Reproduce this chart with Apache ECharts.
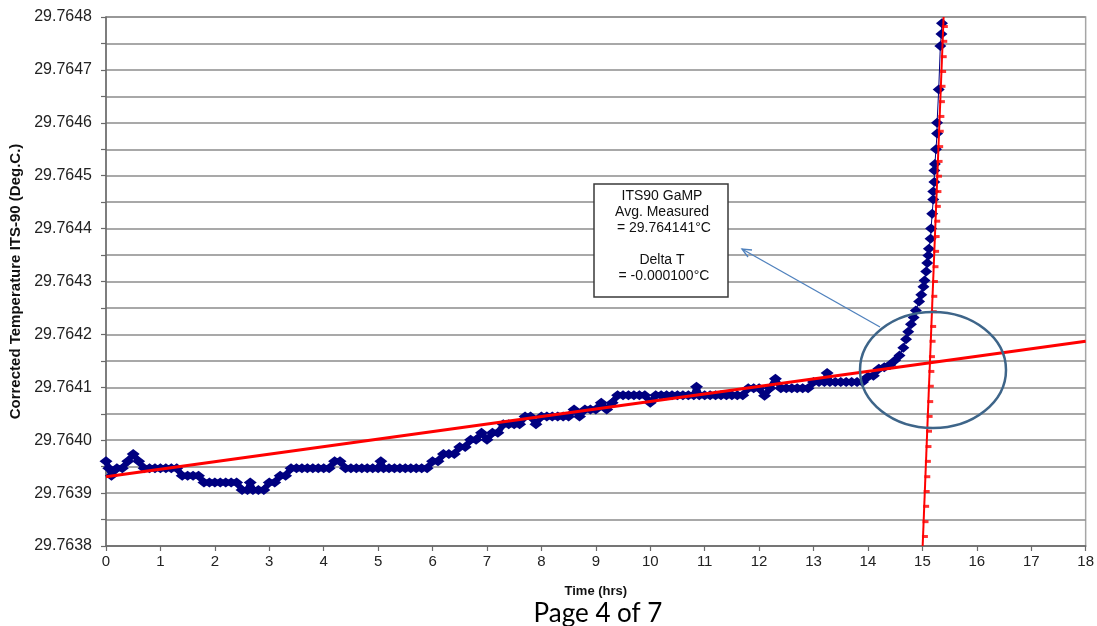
<!DOCTYPE html>
<html>
<head>
<meta charset="utf-8">
<title>ITS90 GaMP</title>
<script src="https://cdn.jsdelivr.net/npm/echarts@6/dist/echarts.min.js"></script>
<style>
  html, body { margin: 0; padding: 0; background: #fff; }
  #chart { width: 1097px; height: 626px; }
</style>
</head>
<body>
<div id="chart"></div>
<script>
// Measured points (time in hrs, corrected temperature in deg C)
const timeHrs = [
    0.00, 0.05, 0.10, 0.20, 0.30, 0.40, 0.50, 0.60, 0.70, 0.80,
    0.90, 1.00, 1.10, 1.20, 1.30, 1.40, 1.50, 1.60, 1.70, 1.80,
    1.90, 2.00, 2.10, 2.20, 2.30, 2.40, 2.50, 2.60, 2.65, 2.70,
    2.80, 2.90, 3.00, 3.10, 3.20, 3.30, 3.40, 3.50, 3.60, 3.70,
    3.80, 3.90, 4.00, 4.10, 4.20, 4.30, 4.40, 4.50, 4.60, 4.70,
    4.80, 4.90, 5.00, 5.05, 5.10, 5.20, 5.30, 5.40, 5.50, 5.60,
    5.70, 5.80, 5.90, 6.00, 6.10, 6.20, 6.30, 6.40, 6.50, 6.60,
    6.70, 6.80, 6.90, 7.00, 7.10, 7.20, 7.30, 7.40, 7.50, 7.60,
    7.70, 7.80, 7.90, 8.00, 8.10, 8.20, 8.30, 8.40, 8.50, 8.60,
    8.70, 8.80, 8.90, 9.00, 9.10, 9.20, 9.30, 9.40, 9.50, 9.60,
    9.70, 9.80, 9.90, 10.00, 10.10, 10.20, 10.30, 10.40, 10.50, 10.60,
    10.70, 10.80, 10.85, 10.90, 11.00, 11.10, 11.20, 11.30, 11.40, 11.50,
    11.60, 11.70, 11.80, 11.90, 12.00, 12.10, 12.20, 12.30, 12.40, 12.50,
    12.60, 12.70, 12.80, 12.90, 13.00, 13.10, 13.20, 13.25, 13.30, 13.40,
    13.50, 13.60, 13.70, 13.80, 13.90, 14.00, 14.10, 14.20, 14.30, 14.40,
    14.50, 14.58, 14.65, 14.70, 14.74, 14.79, 14.84, 14.88, 14.94, 14.98,
    15.02, 15.04, 15.07, 15.09, 15.11, 15.12, 15.15, 15.16, 15.18, 15.20,
    15.20, 15.22, 15.22, 15.23, 15.25, 15.27, 15.27, 15.30, 15.33, 15.35,
    15.36
];
const tempDegC = [
    29.763960, 29.763947, 29.763933, 29.763947, 29.763947, 29.763960, 29.763974, 29.763960, 29.763947, 29.763947,
    29.763947, 29.763947, 29.763947, 29.763947, 29.763947, 29.763933, 29.763933, 29.763933, 29.763933, 29.763920,
    29.763920, 29.763920, 29.763920, 29.763920, 29.763920, 29.763920, 29.763906, 29.763906, 29.763920, 29.763906,
    29.763906, 29.763906, 29.763920, 29.763920, 29.763933, 29.763933, 29.763947, 29.763947, 29.763947, 29.763947,
    29.763947, 29.763947, 29.763947, 29.763947, 29.763960, 29.763960, 29.763947, 29.763947, 29.763947, 29.763947,
    29.763947, 29.763947, 29.763947, 29.763960, 29.763947, 29.763947, 29.763947, 29.763947, 29.763947, 29.763947,
    29.763947, 29.763947, 29.763947, 29.763960, 29.763960, 29.763974, 29.763974, 29.763974, 29.763987, 29.763987,
    29.764001, 29.764001, 29.764014, 29.764001, 29.764014, 29.764014, 29.764030, 29.764030, 29.764030, 29.764030,
    29.764045, 29.764045, 29.764030, 29.764045, 29.764045, 29.764045, 29.764045, 29.764045, 29.764045, 29.764058,
    29.764045, 29.764058, 29.764058, 29.764058, 29.764071, 29.764058, 29.764071, 29.764085, 29.764085, 29.764085,
    29.764085, 29.764085, 29.764085, 29.764071, 29.764085, 29.764085, 29.764085, 29.764085, 29.764085, 29.764085,
    29.764085, 29.764085, 29.764101, 29.764085, 29.764085, 29.764085, 29.764085, 29.764085, 29.764085, 29.764085,
    29.764085, 29.764085, 29.764098, 29.764098, 29.764098, 29.764084, 29.764098, 29.764116, 29.764098, 29.764098,
    29.764098, 29.764098, 29.764098, 29.764098, 29.764110, 29.764110, 29.764110, 29.764127, 29.764110, 29.764110,
    29.764110, 29.764110, 29.764110, 29.764110, 29.764110, 29.764120, 29.764122, 29.764135, 29.764138, 29.764142,
    29.764151, 29.764160, 29.764175, 29.764191, 29.764205, 29.764219, 29.764232, 29.764245, 29.764262, 29.764275,
    29.764290, 29.764302, 29.764319, 29.764335, 29.764349, 29.764362, 29.764381, 29.764400, 29.764428, 29.764455,
    29.764470, 29.764488, 29.764510, 29.764522, 29.764550, 29.764580, 29.764600, 29.764663, 29.764745, 29.764768,
    29.764788
];

// Trend line through the plateau
const plateauFitX = [0, 18];
const plateauFitY = [29.763931, 29.764187];

// Steep (melt) trend line, with its dash markers
const meltFitX = [15.005, 15.390];
const meltFitY = [29.763800, 29.764800];
const meltMarkX = [
    15.010, 15.021, 15.032, 15.042, 15.053, 15.064, 15.075, 15.085, 15.096, 15.107,
    15.118, 15.128, 15.139, 15.150, 15.161, 15.172, 15.182, 15.193, 15.204, 15.215,
    15.225, 15.236, 15.247, 15.258, 15.268, 15.279, 15.290, 15.301, 15.312, 15.322,
    15.333, 15.344, 15.355, 15.365, 15.376
];
const meltMarkY = [
    29.763818, 29.763846, 29.763875, 29.763903, 29.763931, 29.763960, 29.763988, 29.764017, 29.764045, 29.764073,
    29.764102, 29.764130, 29.764158, 29.764187, 29.764215, 29.764243, 29.764272, 29.764300, 29.764328, 29.764357,
    29.764385, 29.764414, 29.764442, 29.764470, 29.764499, 29.764527, 29.764555, 29.764584, 29.764612, 29.764640,
    29.764669, 29.764697, 29.764725, 29.764754, 29.764782
];

const noteLines = [
    'ITS90 GaMP',
    'Avg. Measured',
    ' = 29.764141°C',
    '',
    'Delta T',
    ' = -0.000100°C'
];

function zip(xs, ys) {
    return xs.map(function (x, i) {
        return [x, ys[i]];
    });
}

// Плато рисуем толстой линией, подъём - тонкой (как в исходнике)
const measured = zip(timeHrs, tempDegC);
const riseStart = timeHrs.findIndex(function (t) { return t >= 14.5; });
const plateauPart = measured.slice(0, riseStart);
const risePart = measured.slice(riseStart - 1);

const gridColor = '#8c8c8c';
const axisColor = '#6a6a6a';
const navy = '#000080';
const labelFont = 'Liberation Sans, Arial, sans-serif';

const chart = echarts.init(document.getElementById('chart'), null, { renderer: 'canvas' });

chart.setOption({
    animation: false,
    backgroundColor: '#ffffff',
    grid: {
        left: 106,
        right: 10,
        top: 17,
        bottom: 80,
        show: true,
        borderColor: '#a6a6a6',
        borderWidth: 1.5,
        backgroundColor: 'transparent'
    },
    xAxis: {
        type: 'value',
        min: 0,
        max: 18,
        interval: 1,
        name: 'Time (hrs)',
        nameLocation: 'middle',
        nameGap: 39,
        nameTextStyle: {
            color: '#111',
            fontFamily: labelFont,
            fontWeight: 'bold',
            fontSize: 13
        },
        axisLine: { lineStyle: { color: axisColor, width: 1.5 } },
        axisTick: { show: true, inside: false, length: 5, lineStyle: { color: axisColor, width: 1.2 } },
        axisLabel: {
            color: '#222',
            fontFamily: labelFont,
            fontSize: 15,
            margin: 8
        },
        splitLine: { show: false }
    },
    yAxis: {
        type: 'value',
        min: 29.7638,
        max: 29.7648,
        interval: 0.0001,
        name: 'Corrected Temperature ITS-90 (Deg.C.)',
        nameLocation: 'middle',
        nameGap: 80,
        nameTextStyle: {
            color: '#111',
            fontFamily: labelFont,
            fontWeight: 'bold',
            fontSize: 15
        },
        axisLine: { show: true, lineStyle: { color: axisColor, width: 1.5 } },
        axisTick: { show: true, inside: false, length: 5, lineStyle: { color: axisColor, width: 1.2 } },
        minorTick: { show: true, splitNumber: 2, length: 5, lineStyle: { color: axisColor, width: 1.2 } },
        axisLabel: {
            color: '#222',
            fontFamily: labelFont,
            fontSize: 16,
            margin: 14,
            formatter: function (value) {
                return value.toFixed(4);
            }
        },
        splitLine: { show: true, lineStyle: { color: gridColor, width: 1.5 } },
        minorSplitLine: { show: true, lineStyle: { color: gridColor, width: 1.5 } }
    },
    series: [
        {
            name: 'Measured',
            type: 'line',
            data: plateauPart,
            symbol: 'diamond',
            symbolSize: [13, 10],
            showAllSymbol: true,
            lineStyle: { color: navy, width: 6, join: 'round', cap: 'round' },
            itemStyle: { color: navy },
            z: 2
        },
        {
            name: 'Measured rise',
            type: 'line',
            data: risePart,
            symbol: 'diamond',
            symbolSize: [12, 10],
            showAllSymbol: true,
            lineStyle: { color: navy, width: 1 },
            itemStyle: { color: navy },
            z: 2
        },
        {
            name: 'Plateau fit',
            type: 'line',
            data: zip(plateauFitX, plateauFitY),
            showSymbol: false,
            lineStyle: { color: '#ff0000', width: 3 },
            z: 3
        },
        {
            name: 'Melt fit',
            type: 'line',
            data: zip(meltFitX, meltFitY),
            showSymbol: false,
            lineStyle: { color: '#ff0000', width: 2 },
            z: 3
        },
        {
            name: 'Melt fit points',
            type: 'scatter',
            data: zip(meltMarkX, meltMarkY),
            symbol: 'rect',
            symbolSize: [6, 3],
            symbolOffset: [2, 0],
            itemStyle: { color: '#ff0000' },
            z: 4
        }
    ],
    graphic: [
        {
            type: 'ellipse',
            shape: { cx: 933, cy: 370, rx: 73, ry: 58 },
            style: { fill: 'transparent', stroke: '#3e6589', lineWidth: 2.5 },
            z: 100
        },
        {
            type: 'line',
            shape: { x1: 880, y1: 327, x2: 742, y2: 249 },
            style: { stroke: '#4f81bd', lineWidth: 1.3 },
            z: 100
        },
        {
            type: 'polyline',
            shape: { points: [[748, 257], [742, 249], [752, 250]] },
            style: { stroke: '#4f81bd', lineWidth: 1.3, fill: null },
            z: 100
        },
        {
            type: 'rect',
            shape: { x: 594, y: 184, width: 134, height: 113 },
            style: { fill: '#ffffff', stroke: '#3a3a3a', lineWidth: 1.5 },
            z: 100
        },
        {
            type: 'text',
            x: 662,
            y: 188,
            style: {
                text: noteLines.join('\n'),
                fill: '#111',
                font: '14px Liberation Sans, Arial, sans-serif',
                lineHeight: 16,
                align: 'center',
                verticalAlign: 'top'
            },
            z: 101
        },
        {
            type: 'text',
            x: 598,
            y: 614,
            style: {
                text: 'Page 4 of 7',
                fill: '#000',
                font: '26px Lato, sans-serif',
                align: 'center',
                verticalAlign: 'middle'
            },
            z: 101
        }
    ]
});
</script>
</body>
</html>
